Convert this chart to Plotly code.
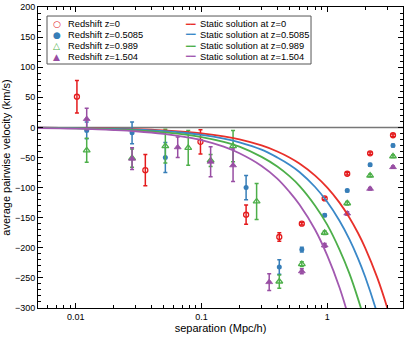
import plotly.graph_objects as go

# measured pairwise velocities (km/s) vs separation (Mpc/h)
RED_X = [0.0102, 0.0357, 0.098, 0.226, 0.415, 0.627, 0.953, 1.44, 2.19, 3.33]
RED_Y = [51, -71, -24, -145, -182, -160, -118, -77, -43, -13]
RED_ERR = [27, 26, 20, 16, 7, 2, 2, 2, 2, 2]

BLUE_X = [0.0122, 0.028, 0.0515, 0.226, 0.415, 0.627, 0.953, 1.44, 2.19, 3.33]
BLUE_Y = [-5, -9, -50, -100, -232, -203, -146, -105, -62, -30]
BLUE_ERR = [14, 18, 25, 20, 12, 4, 2, 2, 2, 2]

GREEN_X = [0.0122, 0.028, 0.0515, 0.0783, 0.118, 0.178, 0.274, 0.415, 0.627, 0.953, 1.44, 2.19, 3.33]
GREEN_Y = [-38, -51, -31, -34, -55, -31, -123, -256, -227, -175, -126, -80, -48]
GREEN_ERR = [20, 15, 28, 29, 10, 26, 30, 11, 4, 3, 3, 2, 2]

PURPLE_X = [0.0122, 0.028, 0.0646, 0.118, 0.178, 0.345, 0.627, 0.953, 1.44, 2.19, 3.33]
PURPLE_Y = [14, -52, -33, -57, -63, -257, -239, -196, -143, -102, -66]
PURPLE_ERR = [18, 18, 17, 25, 27, 14, 4, 3, 3, 2, 2]

# static solutions
CURVE_X = [0.005, 0.0075, 0.01, 0.015, 0.02, 0.03, 0.05, 0.075, 0.1, 0.15, 0.2, 0.3,
           0.4, 0.5, 0.6, 0.8, 1.0, 1.25, 1.5, 1.75, 2.0, 2.5, 3.0, 3.5]
CURVE_Z0 = [-0.5, -0.75, -1, -1.5, -2, -3, -5, -7.5, -10, -15, -20, -30,
            -40, -50, -60, -80, -100, -125, -150, -175, -200, -250, -300, -350]
CURVE_Z05 = [-0.6, -0.9, -1.2, -1.9, -2.5, -3.7, -6.2, -9.3, -12.4, -18.6, -24.8, -37,
             -50, -62, -74, -99, -124, -155, -186, -217, -248, -310, -372, -434]
CURVE_Z099 = [-0.8, -1.2, -1.6, -2.4, -3.2, -4.9, -8.1, -12, -16, -24, -32, -49,
              -65, -81, -97, -130, -162, -203, -243, -284, -324, -405, -486, -567]
CURVE_Z15 = [-1.1, -1.6, -2.1, -3.2, -4.3, -6.4, -10.7, -16, -21, -32, -43, -64,
             -85, -107, -128, -170, -213, -266, -320, -373, -426, -533, -639, -746]

X_MINOR = [0.005, 0.006, 0.007, 0.008, 0.009, 0.02, 0.03, 0.04, 0.05, 0.06, 0.07, 0.08, 0.09,
           0.2, 0.3, 0.4, 0.5, 0.6, 0.7, 0.8, 0.9, 2, 3, 4]

SERIES = [
    ('Redshift z=0', RED_X, RED_Y, RED_ERR, 'circle-open', 5, 1.3, '#e41a1c', '○',
     'Static solution at z=0', CURVE_Z0, '#e8302a'),
    ('Redshift z=0.5085', BLUE_X, BLUE_Y, BLUE_ERR, 'circle', 5, 0, '#377eb8', '●',
     'Static solution at z=0.5085', CURVE_Z05, '#3a88c8'),
    ('Redshift z=0.989', GREEN_X, GREEN_Y, GREEN_ERR, 'triangle-up-open', 6, 1.3, '#4daf4a', '△',
     'Static solution at z=0.989', CURVE_Z099, '#4daf4a'),
    ('Redshift z=1.504', PURPLE_X, PURPLE_Y, PURPLE_ERR, 'triangle-up', 6, 0.8, '#984ea3', '▲',
     'Static solution at z=1.504', CURVE_Z15, '#a259b0'),
]

fig = go.Figure()
fig.add_hline(y=0, line=dict(color='#777777', width=1.5), layer='below')

for name, x, y, err, sym, size, lw, col, glyph, cname, cy, lcol in SERIES:
    fig.add_trace(go.Scatter(
        x=x, y=y, mode='markers', name=name, showlegend=False,
        marker=dict(symbol=sym, size=size, color=col, line=dict(color=col, width=lw)),
        error_y=dict(type='data', array=err, color=col, thickness=1.5, width=2),
    ))
for name, x, y, err, sym, size, lw, col, glyph, cname, cy, lcol in SERIES:
    fig.add_trace(go.Scatter(
        x=CURVE_X, y=cy, mode='lines', name=cname, showlegend=False,
        line=dict(color=lcol, width=1.8, shape='spline'),
    ))

# compact two-column key drawn as text (plotly's legend rows are too tall here)
row_y = [0.9435, 0.907, 0.870, 0.834]
for (name, x, y, err, sym, size, lw, col, glyph, cname, cy, lcol), ry in zip(SERIES, row_y):
    fig.add_annotation(x=0.052, y=ry, xref='paper', yref='paper', text=glyph,
                       showarrow=False, xanchor='center', yanchor='middle',
                       font=dict(family='DejaVu Sans', size=9, color=col))
    fig.add_annotation(x=0.077, y=ry, xref='paper', yref='paper', text=name,
                       showarrow=False, xanchor='left', yanchor='middle', font=dict(size=9.3))
    fig.add_annotation(x=0.397, y=ry, xref='paper', yref='paper', text='━━',
                       showarrow=False, xanchor='left', yanchor='middle',
                       font=dict(family='DejaVu Sans', size=8, color=lcol))
    fig.add_annotation(x=0.438, y=ry, xref='paper', yref='paper', text=cname,
                       showarrow=False, xanchor='left', yanchor='middle', font=dict(size=9.3))
fig.add_shape(type='rect', xref='paper', yref='paper', x0=0.0247, x1=0.748, y0=0.8106, y1=0.970,
              line=dict(color='#555555', width=1), fillcolor='white', layer='below')

axis_common = dict(
    showline=True, linecolor='black', linewidth=1, mirror='ticks', automargin=False,
    ticks='inside', ticklen=5, tickcolor='black', showgrid=False, zeroline=False,
    tickfont=dict(size=9, color='black'),
)
fig.update_xaxes(
    type='log', range=[-2.301, 0.602], tickvals=[0.01, 0.1, 1], ticktext=['0.01', '0.1', '1'],
    minor=dict(ticks='inside', ticklen=3, tickcolor='black', showgrid=False, tickvals=X_MINOR),
    title=dict(text='separation (Mpc/h)', font=dict(size=11), standoff=3),
    **axis_common,
)
fig.update_yaxes(
    range=[-300, 200], dtick=50,
    minor=dict(ticks='inside', ticklen=3, dtick=10, tickcolor='black', showgrid=False),
    title=dict(text='average pairwise velocity (km/s)', font=dict(size=11), standoff=3),
    **axis_common,
)
fig.update_layout(
    width=415, height=338,
    margin=dict(l=38, r=12, t=7, b=30),
    paper_bgcolor='white', plot_bgcolor='white',
    font=dict(family='Liberation Sans, Arial, sans-serif', size=10, color='black'),
    showlegend=False,
)
fig.write_html('out.html', config={'displayModeBar': False},
               post_script="document.body.style.margin='0';")
